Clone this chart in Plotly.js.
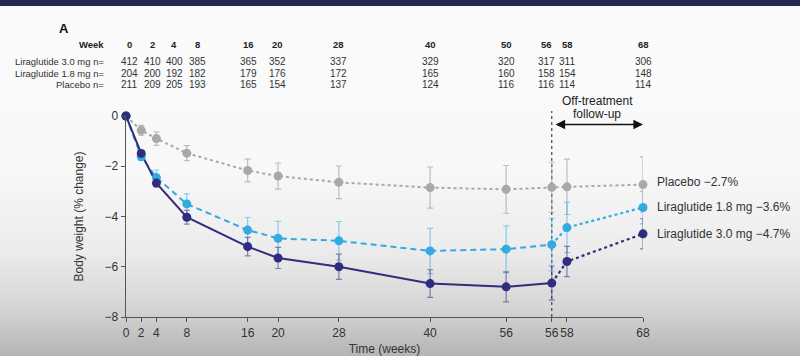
<!DOCTYPE html>
<html>
<head>
<meta charset="utf-8">
<script src="https://cdn.plot.ly/plotly-3.0.1.min.js"></script>
<style>
  html, body { margin: 0; padding: 0; }
  body {
    width: 800px; height: 356px; overflow: hidden; position: relative;
    background: linear-gradient(to bottom, #fbfbfc 0px, #f8f8f8 170px, #ececec 250px, #d4d4d4 310px, #b4b4b4 356px);
  }
  #band { position: absolute; left: 0; top: 0; width: 800px; height: 6px; background: #262650; }
  #chart { position: absolute; left: 0; top: 0; width: 800px; height: 356px; }
</style>
</head>
<body>
<div id="band"></div>
<div id="chart"></div>
<script>
// ---- data ----
const weeks = [0, 2, 4, 8, 16, 20, 28, 40, 50, 56, 58, 68];
const weekTickText = ['0', '2', '4', '8', '16', '20', '28', '40', '56', '56', '58', '68'];
const tableWeekLabels = ['0', '2', '4', '8', '16', '20', '28', '40', '50', '56', '58', '68'];

const placebo = [0, -0.57, -0.9, -1.48, -2.17, -2.39, -2.64, -2.85, -2.92, -2.84, -2.82, -2.73];
const placeboErr = [0, 0.2, 0.27, 0.3, 0.45, 0.52, 0.65, 0.82, 0.95, 1.0, 1.1, 1.1];

const lira18 = [0, -1.62, -2.45, -3.5, -4.54, -4.87, -4.97, -5.37, -5.3, -5.12, -4.44, -3.64];
const lira18Err = [0, 0.15, 0.3, 0.4, 0.5, 0.68, 0.77, 0.9, 0.93, 1.05, 1.0, 0.65];

const lira30 = [0, -1.49, -2.67, -4.03, -5.2, -5.65, -6.0, -6.67, -6.8, -6.65, -5.79, -4.69];
const lira30Err = [0, 0.12, 0.15, 0.27, 0.37, 0.42, 0.5, 0.55, 0.6, 0.68, 0.6, 0.6];

const nLira30 = [412, 410, 400, 385, 365, 352, 337, 329, 320, 317, 311, 306];
const nLira18 = [204, 200, 192, 182, 179, 176, 172, 165, 160, 158, 154, 148];
const nPlacebo = [211, 209, 205, 193, 165, 154, 137, 124, 116, 116, 114, 114];

const seriesLabels = ['Placebo \u22122.7%', 'Liraglutide 1.8 mg \u22123.6%', 'Liraglutide 3.0 mg \u22124.7%'];
const rowLabels = ['Liraglutide 3.0 mg n=', 'Liraglutide 1.8 mg n=', 'Placebo n='];

// ---- layout helpers ----
const ML = 126, MR = 157, MT = 116, MB = 39, W = 800, H = 356;
const PW = W - ML - MR, PH = H - MT - MB;
const px2x = p => (p - ML) / PW;
const py2y = p => (H - MB - p) / PH;

const NAVY = '#312c7e';
const BLUE = '#33abe0';
const GRAY = '#a8a8a8';
const FONT = 'Liberation Sans, Arial, sans-serif';

const treatIdx = weeks.map((w, i) => i).filter(i => weeks[i] <= 56);
const followIdx = weeks.map((w, i) => i).filter(i => weeks[i] >= 56);
const pick = (arr, idx) => idx.map(i => arr[i]);

const traces = [];
// placebo
traces.push({
  x: weeks, y: placebo, mode: 'lines+markers', type: 'scatter',
  line: {color: GRAY, width: 2, dash: 'dot'},
  marker: {color: GRAY, size: 9},
  error_y: {type: 'data', array: placeboErr, visible: true, color: 'rgba(150,150,150,0.6)', thickness: 1.2, width: 3},
  cliponaxis: false, showlegend: false, hoverinfo: 'skip'
});
// lira 1.8 lines
traces.push({x: pick(weeks, treatIdx), y: pick(lira18, treatIdx), mode: 'lines', line: {color: BLUE, width: 2, dash: '6px,4px'}, showlegend: false, cliponaxis: false});
traces.push({x: pick(weeks, followIdx), y: pick(lira18, followIdx), mode: 'lines', line: {color: BLUE, width: 2.2, dash: 'dot'}, showlegend: false, cliponaxis: false});
// lira 3.0 lines
traces.push({x: pick(weeks, treatIdx), y: pick(lira30, treatIdx), mode: 'lines', line: {color: NAVY, width: 2}, showlegend: false, cliponaxis: false});
traces.push({x: pick(weeks, followIdx), y: pick(lira30, followIdx), mode: 'lines', line: {color: NAVY, width: 2.2, dash: 'dot'}, showlegend: false, cliponaxis: false});
// markers + error bars
traces.push({
  x: weeks, y: lira18, mode: 'markers', marker: {color: BLUE, size: 9},
  error_y: {type: 'data', array: lira18Err, visible: true, color: 'rgba(51,171,224,0.55)', thickness: 1.2, width: 3},
  showlegend: false, cliponaxis: false
});
traces.push({
  x: weeks, y: lira30, mode: 'markers', marker: {color: NAVY, size: 9},
  error_y: {type: 'data', array: lira30Err, visible: true, color: 'rgba(49,44,126,0.55)', thickness: 1.2, width: 3},
  showlegend: false, cliponaxis: false
});

const annotations = [];
// panel letter
annotations.push({xref: 'paper', yref: 'paper', x: px2x(57), y: py2y(28), xanchor: 'left', yanchor: 'middle',
  text: '<b>A</b>', showarrow: false, font: {family: FONT, size: 13, color: '#111'}});
// table
const colPx = [129, 152, 174, 197, 248, 277, 338, 430, 506, 546, 567, 643];
const rowPy = [62, 73.5, 85];
const TF = 9.5;
annotations.push({xref: 'paper', yref: 'paper', x: px2x(106), y: py2y(44), xanchor: 'right', yanchor: 'middle',
  text: '<b>Week</b>', showarrow: false, font: {family: FONT, size: TF, color: '#222'}});
tableWeekLabels.forEach((t, i) => annotations.push({xref: 'paper', yref: 'paper', x: px2x(colPx[i]), y: py2y(44),
  xanchor: 'center', yanchor: 'middle', text: '<b>' + t + '</b>', showarrow: false, font: {family: FONT, size: TF, color: '#222'}}));
const nRows = [nLira30, nLira18, nPlacebo];
nRows.forEach((row, r) => {
  annotations.push({xref: 'paper', yref: 'paper', x: px2x(106), y: py2y(rowPy[r]), xanchor: 'right', yanchor: 'middle',
    text: rowLabels[r], showarrow: false, font: {family: FONT, size: TF, color: '#333'}});
  row.forEach((v, i) => annotations.push({xref: 'paper', yref: 'paper', x: px2x(colPx[i]), y: py2y(rowPy[r]),
    xanchor: 'center', yanchor: 'middle', text: String(v), showarrow: false, font: {family: FONT, size: 10, color: '#333'}}));
});
// off-treatment label
annotations.push({xref: 'x', yref: 'paper', x: 62, y: py2y(101), xanchor: 'center', yanchor: 'middle',
  text: 'Off-treatment', showarrow: false, font: {family: FONT, size: 12, color: '#222'}});
annotations.push({xref: 'x', yref: 'paper', x: 62, y: py2y(114), xanchor: 'center', yanchor: 'middle',
  text: 'follow-up', showarrow: false, font: {family: FONT, size: 12, color: '#222'}});
// double arrow
annotations.push({xref: 'x', yref: 'paper', x: 68, y: py2y(124.5), axref: 'x', ayref: 'paper', ax: 56.3, ay: py2y(124.5),
  text: '', showarrow: true, arrowhead: 2, startarrowhead: 2, arrowside: 'end+start', arrowsize: 1.2, startarrowsize: 1.2,
  arrowwidth: 1.6, arrowcolor: '#111'});
// series end labels
const endVals = [placebo[placebo.length - 1], lira18[lira18.length - 1], lira30[lira30.length - 1]];
const endOffsets = [0.12, 0.0, 0.0];
seriesLabels.forEach((t, i) => annotations.push({xref: 'x', yref: 'y', x: 68, y: endVals[i] + endOffsets[i],
  xanchor: 'left', yanchor: 'middle', xshift: 12, text: t, showarrow: false, font: {family: FONT, size: 12, color: '#333'}}));

const layout = {
  width: W, height: H,
  margin: {l: ML, r: MR, t: MT, b: MB, pad: 0},
  paper_bgcolor: 'rgba(0,0,0,0)', plot_bgcolor: 'rgba(0,0,0,0)',
  font: {family: FONT, size: 12, color: '#333'},
  showlegend: false,
  xaxis: {
    range: [0, 68], tickmode: 'array', tickvals: weeks, ticktext: weekTickText, tickangle: 0,
    showline: true, linecolor: '#555', linewidth: 1.3, ticks: 'outside', ticklen: 4, tickcolor: '#555',
    showgrid: false, zeroline: false, tickfont: {family: FONT, size: 12, color: '#333'},
    title: {text: 'Time (weeks)', font: {family: FONT, size: 12, color: '#333'}, standoff: 6}
  },
  yaxis: {
    range: [-8, 0], tickvals: [0, -2, -4, -6, -8],
    showline: true, linecolor: '#555', linewidth: 1.3, ticks: 'outside', ticklen: 4, tickcolor: '#555',
    showgrid: false, zeroline: false, tickfont: {family: FONT, size: 12, color: '#333'},
    title: {text: 'Body weight (% change)', font: {family: FONT, size: 12, color: '#333'}, standoff: 18}
  },
  shapes: [{type: 'line', xref: 'x', yref: 'paper', x0: 56, x1: 56, y0: 0, y1: py2y(111),
    line: {color: '#444', width: 1.2, dash: 'dot'}, layer: 'below'}],
  annotations: annotations
};

Plotly.newPlot('chart', traces, layout, {staticPlot: true, displayModeBar: false});
</script>
</body>
</html>
